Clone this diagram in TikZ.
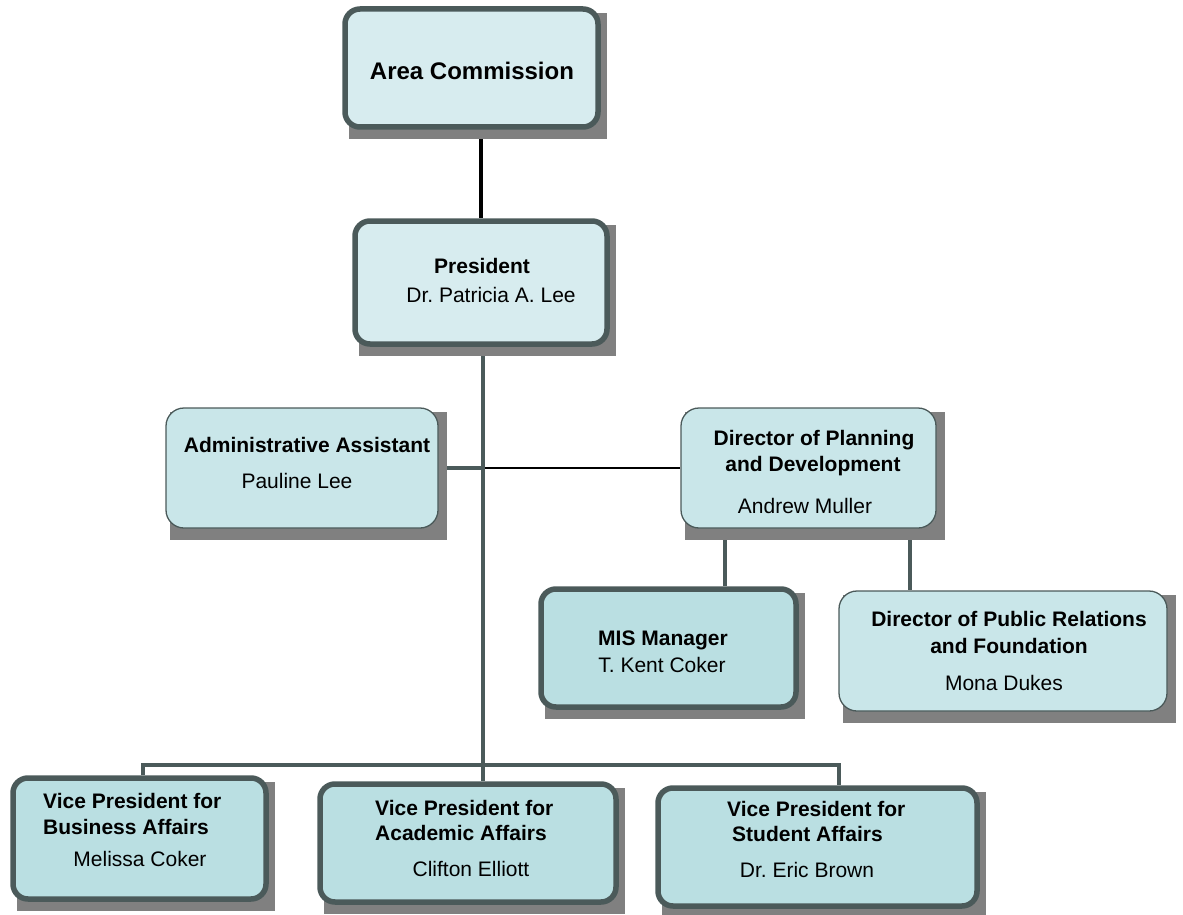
\documentclass[tikz,border=0pt]{standalone}
\usepackage{fontspec}
\setmainfont{Liberation Sans}
\usetikzlibrary{backgrounds}
\frenchspacing
\definecolor{bordc}{HTML}{4B5A5A}
\definecolor{shadc}{HTML}{808080}
\definecolor{fillA}{HTML}{D7ECEF}
\definecolor{fillB}{HTML}{C9E6E9}
\definecolor{fillC}{HTML}{BADFE2}
\tikzset{
  thickbox/.style={draw=bordc, line width=5.5pt, rounded corners=15pt, inner sep=0pt},
  thinbox/.style={draw=bordc, line width=1.3pt, rounded corners=18pt, inner sep=0pt},
  conn/.style={draw=bordc, line width=4.5pt},
  blackconn/.style={draw=black, line width=4pt},
  thinconn/.style={draw=black, line width=1.8pt},
  bt/.style={font=\fontsize{21}{25}\selectfont\bfseries, inner sep=0pt, anchor=base},
  btl/.style={font=\fontsize{21}{25}\selectfont\bfseries, inner sep=0pt, anchor=base west},
  rt/.style={font=\fontsize{21}{25}\selectfont, inner sep=0pt, anchor=base},
}
\newcommand\orgbox[6]{%
  \fill[shadc] (#3+4,#4+4) rectangle (#5+9,#6+12);
  \node[#2, minimum width={#5-#3}, minimum height={#6-#4}] (#1) at ({(#3+#5)/2},{(#4+#6)/2}) {};
}
\begin{document}
\begin{tikzpicture}[x=1pt,y=-1pt]
\useasboundingbox (0,0) rectangle (1183,915);
% boxes
\orgbox{area}{thickbox,fill=fillA}{345}{9}{598}{127}
\orgbox{pres}{thickbox,fill=fillA}{355}{221}{607}{344}
\orgbox{admin}{thinbox,fill=fillB}{166}{408}{438}{528}
\orgbox{dir}{thinbox,fill=fillB}{681}{408}{936}{528}
\orgbox{mis}{thickbox,fill=fillC}{541}{589}{796}{707}
\orgbox{pr}{thinbox,fill=fillB}{839}{591}{1167}{711}
\orgbox{vpb}{thickbox,fill=fillC}{13}{778}{266}{899}
\orgbox{vpa}{thickbox,fill=fillC}{320}{784}{616}{902}
\orgbox{vps}{thickbox,fill=fillC}{658}{788}{977}{906}
% texts
\node[font=\fontsize{24}{28}\selectfont\bfseries, inner sep=0pt, anchor=base] (tarea) at (472,80) {Area Commission};
\node[bt] (tpres1) at (482,273) {President};
\node[rt] (tpres2) at (491,302) {Dr. Patricia A. Lee};
\node[bt] (tadm1) at (307,452) {Administrative Assistant};
\node[rt] (tadm2) at (297,488) {Pauline Lee};
\node[bt] (tdir1) at (814,445) {Director of Planning};
\node[bt] (tdir2) at (813,471) {and Development};
\node[rt] (tdir3) at (805,513) {Andrew Muller};
\node[bt] (tmis1) at (663,645) {MIS Manager};
\node[rt] (tmis2) at (662,672) {T. Kent Coker};
\node[bt] (tpr1) at (1009,626) {Director of Public Relations};
\node[bt] (tpr2) at (1009,653) {and Foundation};
\node[rt] (tpr3) at (1004,690) {Mona Dukes};
\node[btl] (tvpb1) at (43,808) {Vice President for};
\node[btl] (tvpb2) at (43,834) {Business Affairs};
\node[rt] (tvpb3) at (140,866) {Melissa Coker};
\node[btl] (tvpa1) at (375,815) {Vice President for};
\node[btl] (tvpa2) at (375,840) {Academic Affairs};
\node[rt] (tvpa3) at (471,876) {Clifton Elliott};
\node[btl] (tvps1) at (727,816) {Vice President for};
\node[btl] (tvps2) at (732,841) {Student Affairs};
\node[rt] (tvps3) at (807,877) {Dr. Eric Brown};
% connector coordinates
\coordinate (trunk) at (483,0);
\coordinate (dm) at (725,0);
\coordinate (dp) at (910,0);
\coordinate (bl) at (143,765);
\coordinate (bus) at (483,765);
\coordinate (br) at (839,765);
% connectors (behind boxes and shadows)
\begin{scope}[on background layer]
\draw[blackconn] (area.south -| pres.north) -- (pres.north);
\draw[thinconn] (dir.west -| trunk) -- (dir.west);
\draw[conn] (trunk |- pres.south) -- (trunk |- vpa.north);
\draw[conn] (admin.east) -- (admin.east -| trunk);
\draw[conn] (dm |- dir.south) -- (dm |- mis.north);
\draw[conn] (dp |- dir.south) -- (dp |- pr.north);
\draw[conn] (bl |- vpb.north) -- (bl) -- (bus) -- (br) -- (br |- vps.north);
\end{scope}
\end{tikzpicture}
\end{document}
